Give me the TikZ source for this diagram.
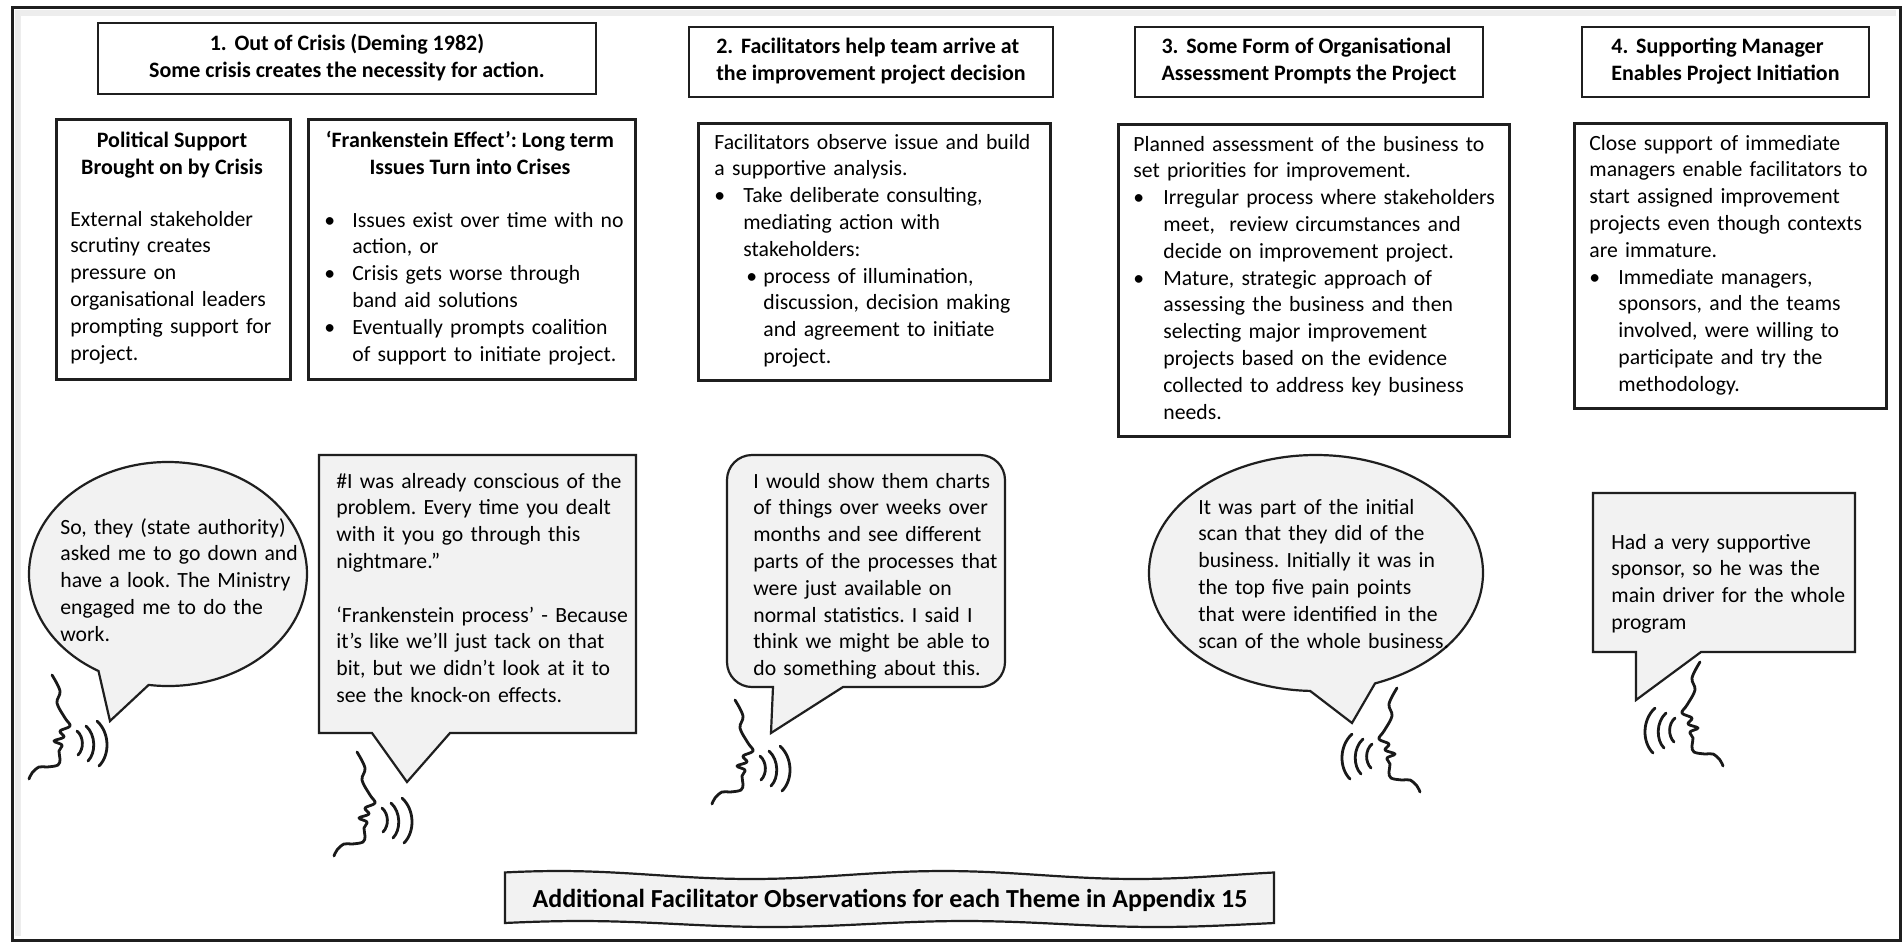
\documentclass[tikz,border=0pt]{standalone}
\usepackage{fontspec}
\setmainfont{Carlito}
\frenchspacing
\newcommand\txtfont{\fontsize{10.85pt}{13.4pt}\selectfont}
\newcommand\hdfont{\fontsize{11pt}{13.5pt}\selectfont\bfseries}
\newcommand\notefont{\fontsize{13pt}{15pt}\selectfont\bfseries}
\newcommand\bul[1]{\makebox[#1][l]{\textbullet}}
\newcommand\ind[1]{\hspace*{#1}}
\begin{document}
\begin{tikzpicture}[x=0.5pt,y=-0.5pt,
  ink/.style={draw=black!88},
  hdbox/.style={ink, line width=1.3pt, fill=white, inner sep=0pt, font=\hdfont},
  cbox/.style={ink, line width=1.3pt, fill=white, inner sep=0pt, anchor=north west},
  body/.style={inner sep=0pt, anchor=north west, align=left, text width=#1, font=\txtfont},
  body/.default=200pt,
  boxtitle/.style={inner sep=0pt, anchor=north, align=center, font=\hdfont},
  bubble/.style={ink, line width=1.1pt, fill=black!5, line join=miter},
  stroke/.style={black!90, line width=1.4pt, line cap=round, line join=round},
  speaker/.pic={
    \draw[stroke] plot[smooth, tension=0.6] coordinates {(0,0) (8,16) (5,28) (13,43) (18,51) (8,56) (12,62) (2,66) (10,70) (7,76) (8,84) (6,90) (-5,92) (-13,92) (-20,98) (-23,104)};
    \draw[stroke] (25,56) .. controls (32,62) and (32,74) .. (26,80);
    \draw[stroke] (34,51) .. controls (44,60) and (44,78) .. (36,86);
    \draw[stroke] (45,46) .. controls (58,58) and (58,80) .. (47,91);
  }
]
\useasboundingbox (0,0) rectangle (1903,944);
\fill[white] (0,0) rectangle (1903,944);

% outer frame with a soft inner shadow
\draw[black!7, line width=3pt] (18,936) -- (18,13) -- (1896,13);
\draw[ink, line width=1.5pt] (12,7) rectangle (1900,940);

% theme headings
\node[hdbox, minimum width=249pt, minimum height=35.5pt, align=center] (h1) at (347,58.5)
  {\strut 1.\hspace{0.35em}Out of Crisis (Deming 1982)\\ \strut Some crisis creates the necessity for action.};
\node[hdbox, minimum width=182pt, minimum height=35pt, align=left] (h2) at (871,62)
  {\strut 2.\hspace{0.35em}Facilitators help team arrive at\\ \strut the improvement project decision};
\node[hdbox, minimum width=174pt, minimum height=35pt, align=left] (h3) at (1309,62)
  {\strut 3.\hspace{0.35em}Some Form of Organisational\\ \strut Assessment Prompts the Project};
\node[hdbox, minimum width=143.5pt, minimum height=35pt, align=left] (h4) at (1725.5,62)
  {\strut 4.\hspace{0.35em}Supporting Manager\\ \strut Enables Project Initiation};

% theme description boxes
\node[cbox, minimum width=117pt, minimum height=130pt] (b1a) at (55,118) {};
\node[cbox, minimum width=163.5pt, minimum height=130pt] (b1b) at (307,118) {};
\node[cbox, minimum width=176pt, minimum height=128.5pt] (b2) at (697,122) {};
\node[cbox, minimum width=195.5pt, minimum height=156pt] (b3) at (1117,123) {};
\node[cbox, minimum width=156pt, minimum height=142.5pt] (b4) at (1573,122) {};

\node[boxtitle] (t1a) at (172,128) {\strut Political Support\\ \strut Brought on by Crisis};
\node[body] (x1a) at (70,207) {\strut External stakeholder\\ scrutiny creates\\ pressure on\\ organisational leaders\\ prompting support for\\ project.};

\node[boxtitle] (t1b) at (470,128) {\strut ‘Frankenstein Effect’: Long term\\ \strut Issues Turn into Crises};
\node[body] (x1b) at (324,208) {\strut\bul{14pt}Issues exist over time with no\\
  \ind{14pt}action, or\\
  \bul{14pt}Crisis gets worse through\\
  \ind{14pt}band aid solutions\\
  \bul{14pt}Eventually prompts coalition\\
  \ind{14pt}of support to initiate project.};

\node[body] (x2) at (714,130) {\strut Facilitators observe issue and build\\
  a supportive analysis.\\
  \bul{14.5pt}Take deliberate consulting,\\
  \ind{14.5pt}mediating action with\\
  \ind{14.5pt}stakeholders:\\
  \ind{16pt}\bul{8.5pt}process of illumination,\\
  \ind{24.5pt}discussion, decision making\\
  \ind{24.5pt}and agreement to initiate\\
  \ind{24.5pt}project.};

\node[body] (x3) at (1133,132) {\strut Planned assessment of the business to\\
  set priorities for improvement.\\
  \bul{15pt}Irregular process where stakeholders\\
  \ind{15pt}meet,\ \ review circumstances and\\
  \ind{15pt}decide on improvement project.\\
  \bul{15pt}Mature, strategic approach of\\
  \ind{15pt}assessing the business and then\\
  \ind{15pt}selecting major improvement\\
  \ind{15pt}projects based on the evidence\\
  \ind{15pt}collected to address key business\\
  \ind{15pt}needs.};

\node[body] (x4) at (1589,131) {\strut Close support of immediate\\
  managers enable facilitators to\\
  start assigned improvement\\
  projects even though contexts\\
  are immature.\\
  \bul{14.5pt}Immediate managers,\\
  \ind{14.5pt}sponsors, and the teams\\
  \ind{14.5pt}involved, were willing to\\
  \ind{14.5pt}participate and try the\\
  \ind{14.5pt}methodology.};

% speech bubbles
\draw[bubble] (168,574) ++(98:139 and 112)
  arc[start angle=98, end angle=-240, x radius=139, y radius=112] -- (110,721) -- cycle;
\draw[bubble] (319,455) -- (636,455) -- (636,733) -- (450,733) -- (407,782) -- (372,733) -- (319,733) -- cycle;
\draw[bubble] (773,687) -- (771,733) -- (843,687) -- (980,687)
  arc[start angle=90, end angle=0, radius=25] -- (1005,480)
  arc[start angle=0, end angle=-90, radius=25] -- (752,455)
  arc[start angle=-90, end angle=-180, radius=25] -- (727,662)
  arc[start angle=180, end angle=90, radius=25] -- cycle;
\draw[bubble] (1316,573) ++(92:167 and 118)
  arc[start angle=92, end angle=429.3, x radius=167, y radius=118] -- (1352,723) -- cycle;
\draw[bubble] (1593,493) -- (1855,493) -- (1855,652) -- (1701,652) -- (1636,700) -- (1636,652) -- (1593,652) -- cycle;

\node[body] (q1) at (60,515) {\strut So, they (state authority)\\ asked me to go down and\\ have a look. The Ministry\\ engaged me to do the\\ work.};
\node[body] (q2) at (336,469) {\strut\#I was already conscious of the\\
  problem. Every time you dealt\\
  with it you go through this\\
  nightmare.”\\ \strut\\
  ‘Frankenstein process’ - Because\\
  it’s like we’ll just tack on that\\
  bit, but we didn’t look at it to\\
  see the knock-on effects.};
\node[body] (q3) at (753,469) {\strut I would show them charts\\
  of things over weeks over\\
  months and see different\\
  parts of the processes that\\
  were just available on\\
  normal statistics. I said I\\
  think we might be able to\\
  do something about this.};
\node[body] (q4) at (1198,495) {\strut It was part of the initial\\
  scan that they did of the\\
  business. Initially it was in\\
  the top five pain points\\
  that were identified in the\\
  scan of the whole business.};
\node[body] (q5) at (1611,530) {\strut Had a very supportive\\
  sponsor, so he was the\\
  main driver for the whole\\
  program};

% speakers
\pic at (52,675) {speaker};
\pic at (357,752) {speaker};
\pic at (735,700) {speaker};
\pic[xscale=-1] at (1397,688) {speaker};
\pic[xscale=-1] at (1700,662) {speaker};

% wavy note banner
\draw[bubble] plot[domain=505:1274, samples=60] (\x, {875 - 4*sin((\x-505)/385*360 + 40)})
  -- plot[domain=1274:505, samples=60] (\x, {924 + 3*sin((\x-505)/385*360 + 200)}) -- cycle;
\node[font=\notefont, inner sep=0pt] (note) at (890,900) {Additional Facilitator Observations for each Theme in Appendix 15};
\end{tikzpicture}
\end{document}
